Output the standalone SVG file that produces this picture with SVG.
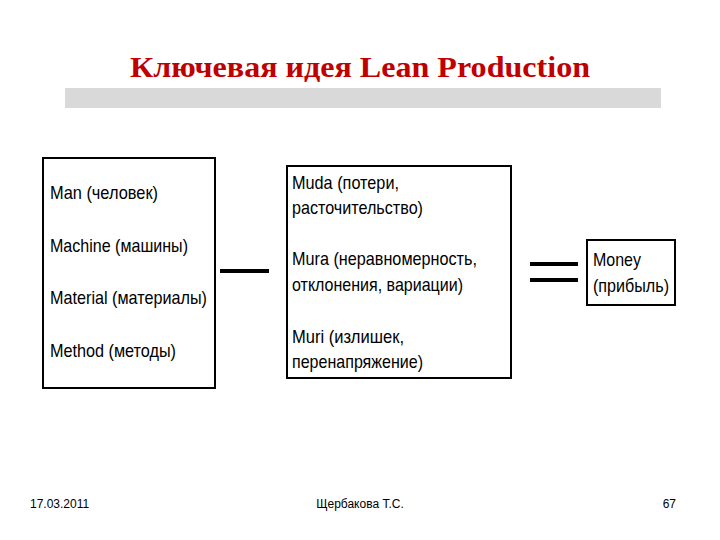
<svg xmlns="http://www.w3.org/2000/svg" width="720" height="540" viewBox="0 0 720 540">
<style>
.box{fill:#fff;stroke:#000;stroke-width:2}
.t{font-family:"Liberation Sans",Arial,sans-serif;font-size:19px;fill:#000}
.f{font-family:"Liberation Sans",Arial,sans-serif;font-size:12px;fill:#000}
.op{stroke:#000;stroke-width:4}
</style>
<rect width="720" height="540" fill="#fff"/>
<text x="130" y="77" font-family="Liberation Serif,serif" font-size="30" font-weight="bold" fill="#c00000" textLength="460" lengthAdjust="spacingAndGlyphs">Ключевая идея Lean Production</text>
<rect x="65" y="88" width="596" height="20" fill="#d9d9d9"/>
<g id="factors">
<rect class="box" x="43" y="158" width="172" height="230"/>
<text class="t" x="50" y="199" textLength="108" lengthAdjust="spacingAndGlyphs">Man (человек)</text>
<text class="t" x="50" y="252" textLength="138" lengthAdjust="spacingAndGlyphs">Machine (машины)</text>
<text class="t" x="50" y="304" textLength="157" lengthAdjust="spacingAndGlyphs">Material (материалы)</text>
<text class="t" x="50" y="357" textLength="126" lengthAdjust="spacingAndGlyphs">Method (методы)</text>
</g>
<g id="losses">
<rect class="box" x="287" y="166" width="224" height="212"/>
<text class="t" x="292" y="189" textLength="107" lengthAdjust="spacingAndGlyphs">Muda (потери,</text>
<text class="t" x="292" y="214" textLength="131" lengthAdjust="spacingAndGlyphs">расточительство)</text>
<text class="t" x="292" y="265" textLength="185" lengthAdjust="spacingAndGlyphs">Mura (неравномерность,</text>
<text class="t" x="292" y="291" textLength="171" lengthAdjust="spacingAndGlyphs">отклонения, вариации)</text>
<text class="t" x="292" y="343" textLength="112" lengthAdjust="spacingAndGlyphs">Muri (излишек,</text>
<text class="t" x="292" y="368" textLength="131" lengthAdjust="spacingAndGlyphs">перенапряжение)</text>
</g>
<g id="money">
<rect class="box" x="587" y="240" width="88" height="65"/>
<text class="t" x="593" y="266" textLength="48" lengthAdjust="spacingAndGlyphs">Money</text>
<text class="t" x="593" y="292" textLength="76" lengthAdjust="spacingAndGlyphs">(прибыль)</text>
</g>
<g id="connectors">
<line class="op" x1="220" y1="271" x2="269" y2="271"/>
<line class="op" x1="530" y1="264" x2="578" y2="264"/>
<line class="op" x1="530" y1="280" x2="578" y2="280"/>
</g>
<text class="f" x="30" y="508">17.03.2011</text>
<text class="f" x="360" y="508" text-anchor="middle">Щербакова Т.С.</text>
<text class="f" x="676" y="508" text-anchor="end">67</text>
</svg>
